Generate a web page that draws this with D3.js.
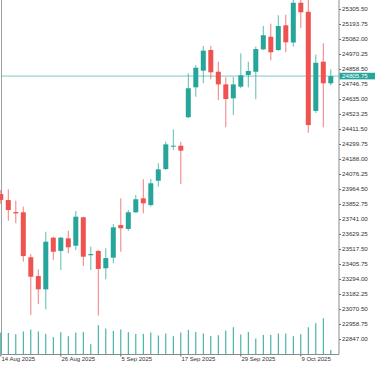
<!DOCTYPE html>
<html>
<head>
<meta charset="UTF-8">
<title></title>
<script src="https://cdn.jsdelivr.net/npm/d3@7/dist/d3.min.js"></script>
<style>
	body { margin: 0; background: #fff; }
</style>
<script>
	// daily bars, 14 Aug 2025 .. 15 Oct 2025
	var dates = ["2025-08-14","2025-08-15","2025-08-18","2025-08-19","2025-08-20","2025-08-21","2025-08-22",
		"2025-08-25","2025-08-26","2025-08-27","2025-08-28","2025-08-29","2025-09-01","2025-09-02","2025-09-03",
		"2025-09-04","2025-09-05","2025-09-08","2025-09-09","2025-09-10","2025-09-11","2025-09-12","2025-09-15",
		"2025-09-16","2025-09-17","2025-09-18","2025-09-19","2025-09-22","2025-09-23","2025-09-24","2025-09-25",
		"2025-09-26","2025-09-29","2025-09-30","2025-10-01","2025-10-02","2025-10-03","2025-10-06","2025-10-07",
		"2025-10-08","2025-10-09","2025-10-10","2025-10-13","2025-10-14","2025-10-15"];
	var open = [23927,23882,23793,23791,23456,23316,23217,23602,23503,23597,23542,23754,23471,23503,23374,
		23453,23696,23667,23791,23895,23845,24026,24113,24283,24287,24499,24722,24846,25000,24838,24744,
		24640,24727,24814,24838,25005,25099,25000,25184,25056,25352,25285,24546,24913,24752];
	var high = [23957,23962,23877,23833,23480,23366,23646,23609,23607,23654,23801,23758,23535,23510,23523,
		23704,23895,23808,23920,24037,24039,24156,24317,24409,24317,24826,24888,25030,25030,24913,24797,
		24799,24975,24913,25025,25179,25196,25259,25263,25372,25380,25390,24966,25050,24856];
	var low = [23853,23728,23709,23423,23026,23108,23068,23436,23361,23485,23510,23391,23361,23021,23292,
		23411,23497,23652,23786,23783,23833,23982,24106,24255,24002,24493,24652,24752,24782,24627,24424,
		24516,24717,24722,24633,25000,24923,24993,24983,25025,25164,24384,24531,24424,24736];
	var close = [23883,23808,23783,23465,23311,23217,23572,23497,23602,23530,23758,23460,23480,23369,23450,
		23679,23672,23791,23888,23858,24007,24111,24297,24287,24250,24715,24868,24995,24834,24744,24635,
		24744,24812,24844,25007,25110,24983,25179,25057,25352,25281,24441,24905,24752,24805.75];
	var volume = [220,216,203,230,250,230,206,173,223,183,220,226,103,293,260,236,250,223,206,206,220,190,
		210,183,220,246,226,210,186,193,240,273,200,226,160,196,196,210,210,183,203,273,313,363,46];

	// axis labels
	var dateTicks = ["2025-08-14","2025-08-26","2025-09-05","2025-09-17","2025-09-29","2025-10-09"];
	var dateTickLabels = ["14 Aug 2025","26 Aug 2025","5 Sep 2025","17 Sep 2025","29 Sep 2025","9 Oct 2025"];
	var priceTicks = [22847.00,22958.75,23070.50,23182.25,23294.00,23405.75,23517.50,23629.25,23741.00,
		23852.75,23964.50,24076.25,24188.00,24299.75,24411.50,24523.25,24635.00,24746.75,24858.50,
		24970.25,25082.00,25193.75,25305.50];
	var lastPrice = 24805.75;

	var width = 375;
	var height = 366;
	var plotLeft = 1.5;   // left frame line
	var plotRight = 339;  // price scale line
	var plotBottom = 354.5;
	var bullColor = "#26a69a";
	var bearColor = "#ef5350";

	var draw = function(){
		var svg = d3.select("#chartBox").append("svg")
			.attr("width", width)
			.attr("height", height)
			.style("display", "block")
			.style("font-family", "'Liberation Sans', Arial, sans-serif");

		var bars = dates.map(function(d, i){
			return {date: d, o: open[i], h: high[i], l: low[i], c: close[i], v: volume[i]};
		});

		// 7.5px per bar, first bar partly behind the left edge
		var x = d3.scaleBand()
			.domain(dates)
			.range([-2.95, -2.95 + dates.length * 7.5])
			.padding(0);
		var bw = x.bandwidth();
		var cx = function(d){ return x(d) + bw / 2; };

		var y = d3.scaleLinear()
			.domain([22847, 25305.5])
			.range([339, 9]);

		var yv = d3.scaleLinear()
			.domain([0, 400])
			.range([plotBottom, plotBottom - 40]);

		// frame
		svg.append("line")
			.attr("x1", plotLeft).attr("x2", plotLeft)
			.attr("y1", 0).attr("y2", plotBottom)
			.attr("stroke", "#a0a0a0").attr("stroke-width", 1);
		svg.append("line")
			.attr("x1", plotLeft).attr("x2", plotRight)
			.attr("y1", plotBottom).attr("y2", plotBottom)
			.attr("stroke", "#8c8c8c").attr("stroke-width", 1);

		// volumes
		svg.append("g").selectAll("line.vol")
			.data(bars)
			.enter().append("line")
			.attr("class", "vol")
			.attr("x1", function(d){ return cx(d.date); })
			.attr("x2", function(d){ return cx(d.date); })
			.attr("y1", plotBottom)
			.attr("y2", function(d){ return yv(d.v); })
			.attr("stroke", bullColor)
			.attr("stroke-width", 1);

		// current price line
		svg.append("line")
			.attr("x1", plotLeft).attr("x2", plotRight)
			.attr("y1", y(lastPrice)).attr("y2", y(lastPrice))
			.attr("stroke", bullColor)
			.attr("stroke-opacity", 0.6)
			.attr("stroke-width", 1);

		// candles
		var candle = svg.append("g").selectAll("g.candle")
			.data(bars)
			.enter().append("g")
			.attr("class", "candle");
		candle.append("line")
			.attr("x1", function(d){ return cx(d.date); })
			.attr("x2", function(d){ return cx(d.date); })
			.attr("y1", function(d){ return y(d.h); })
			.attr("y2", function(d){ return y(d.l); })
			.attr("stroke", function(d){ return d.c >= d.o ? bullColor : bearColor; })
			.attr("stroke-opacity", 0.75)
			.attr("stroke-width", 1);
		candle.append("rect")
			.attr("x", function(d){ return cx(d.date) - 2.5; })
			.attr("y", function(d){ return y(Math.max(d.o, d.c)); })
			.attr("width", 5)
			.attr("height", function(d){ return Math.max(1, Math.abs(y(d.o) - y(d.c))); })
			.attr("fill", function(d){ return d.c >= d.o ? bullColor : bearColor; });

		// price scale on the right
		var yAxis = d3.axisRight(y)
			.tickValues(priceTicks)
			.tickSize(2)
			.tickPadding(1)
			.tickFormat(d3.format(".2f"));
		var gy = svg.append("g")
			.attr("transform", "translate(" + plotRight + ",0)")
			.call(yAxis);
		gy.select(".domain").remove();
		gy.selectAll(".tick line").attr("stroke", "#666");
		gy.selectAll(".tick text")
			.attr("fill", "#333")
			.style("font-size", "6.2px")
			.style("font-family", "'Liberation Sans', Arial, sans-serif");
		svg.append("line")
			.attr("x1", plotRight).attr("x2", plotRight)
			.attr("y1", 0).attr("y2", plotBottom)
			.attr("stroke", "#8c8c8c").attr("stroke-width", 1);

		// last price label
		svg.append("rect")
			.attr("x", plotRight + 0.5)
			.attr("y", y(lastPrice) - 3.3)
			.attr("width", width - plotRight)
			.attr("height", 6.6)
			.attr("fill", bullColor);
		svg.append("text")
			.attr("x", plotRight + 3)
			.attr("y", y(lastPrice))
			.attr("dy", "0.34em")
			.attr("fill", "#fff")
			.style("font-size", "6.2px")
			.text(d3.format(".2f")(lastPrice));

		// time scale
		var xAxis = d3.axisBottom(x)
			.tickValues(dateTicks)
			.tickSize(2)
			.tickPadding(0.5)
			.tickFormat(function(d){ return dateTickLabels[dateTicks.indexOf(d)]; });
		var gx = svg.append("g")
			.attr("transform", "translate(0," + plotBottom + ")")
			.call(xAxis);
		gx.select(".domain").remove();
		gx.selectAll(".tick line").attr("stroke", "#666");
		gx.selectAll(".tick text")
			.attr("text-anchor", "start")
			.attr("x", 0.6)
			.attr("fill", "#333")
			.style("font-size", "6px")
			.style("font-family", "'Liberation Sans', Arial, sans-serif");
	}

	window.onload = function(){
		draw();
	};
</script>
</head>
<body>
	<div id="chartBox"></div>
</body>
</html>
